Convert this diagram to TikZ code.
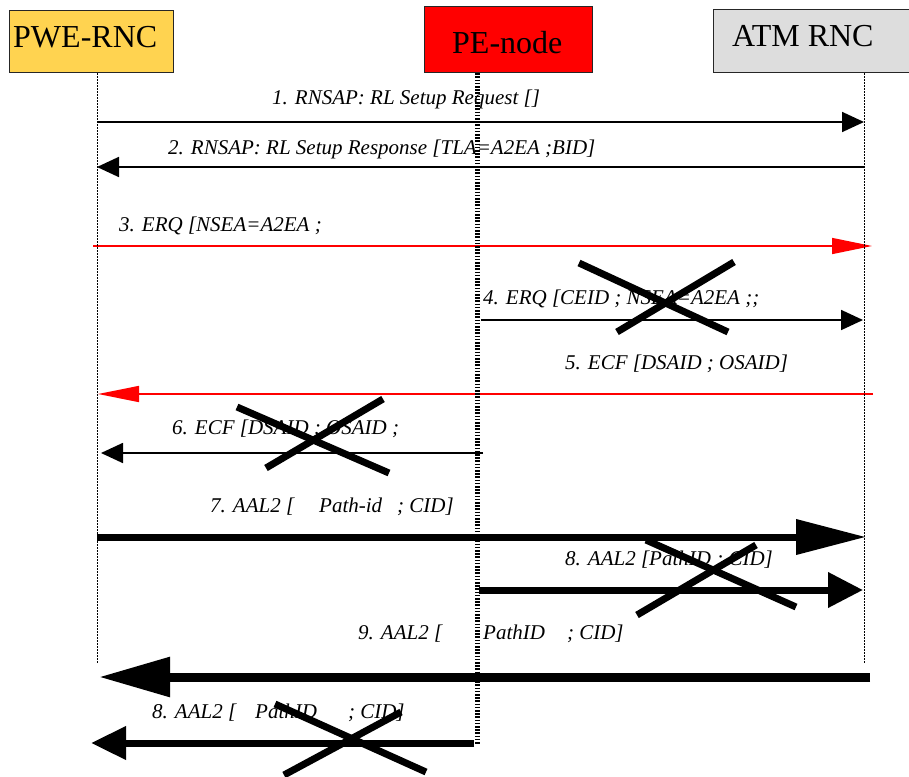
\documentclass[tikz,border=0pt]{standalone}
\usepackage{fontspec}
\setmainfont{Liberation Serif}
\usetikzlibrary{arrows.meta}
\definecolor{pweyellow}{RGB}{255,211,80}
\definecolor{atmgray}{RGB}{221,221,221}
\begin{document}
\begin{tikzpicture}[x=1pt,y=-1pt,
  box/.style={draw=black!85, line width=1.2pt, inner sep=0pt, anchor=north west},
  head/.style={font=\fontsize{32}{36}\selectfont, inner sep=0pt, anchor=base west},
  msg/.style={font=\fontsize{21}{25}\selectfont\itshape, inner sep=0pt, anchor=base west},
  life/.style={line width=0.8pt, dash pattern=on 1.5pt off 1.5pt},
  pelife/.style={line width=5pt, dash pattern=on 1.6pt off 1.6pt},
  thinarr/.style={line width=1.8pt, -{Triangle[length=22pt,width=20pt]}},
  redarr/.style={red, line width=1.5pt, -{Triangle[length=40pt,width=16pt]}},
  fatarr/.style={line width=7pt, -{Triangle[length=70pt,width=34pt]}},
  fatshort/.style={line width=7pt, -{Triangle[length=35pt,width=34pt]}},
  cross/.style={line width=7pt}]
\useasboundingbox (0,0) rectangle (909,776);
\fill[white] (0,0) rectangle (909,776);
% boxes
\node[box, fill=pweyellow, minimum width=164pt, minimum height=62pt] (pwe) at (9,10) {};
\node[box, fill=red, minimum width=168pt, minimum height=66pt] (pe) at (424,6) {};
\node[box, fill=atmgray, minimum width=196pt, minimum height=63pt] (atm) at (713,9) {};
\node[head] (pwet) at (13,48) {PWE-RNC};
\node[head] (pet) at (452,53) {PE-node};
\node[head] (atmt) at (732,47) {ATM RNC};
% lifeline ends
\coordinate (pweend) at (97,663);
\coordinate (atmend) at (864,663);
\coordinate (peend) at (477,745);
% message end points
\coordinate (m1a) at (97,122);  \coordinate (m1b) at (864,122);
\coordinate (m2a) at (864,167); \coordinate (m2b) at (97,167);
\coordinate (m3a) at (93,246);  \coordinate (m3b) at (872,246);
\coordinate (m4a) at (481,320); \coordinate (m4b) at (863,320);
\coordinate (m5a) at (873,394); \coordinate (m5b) at (98,394);
\coordinate (m6a) at (483,453); \coordinate (m6b) at (101,453);
\coordinate (m7a) at (97,537);  \coordinate (m7b) at (866,537);
\coordinate (m8a) at (479,590); \coordinate (m8b) at (863,590);
\coordinate (m9a) at (870,677); \coordinate (m9b) at (99,677);
\coordinate (m10a) at (474,743); \coordinate (m10b) at (91,743);
% messages
\draw[thinarr] (m1a) -- (m1b);
\node[msg] (l1) at (272,104) {1. RNSAP: RL Setup Request []};
\draw[thinarr] (m2a) -- (m2b);
\node[msg] (l2) at (168,154) {2. RNSAP: RL Setup Response [TLA=A2EA ;BID]};
\draw[redarr] (m3a) -- (m3b);
\node[msg] (l3) at (119,231) {3. ERQ [NSEA=A2EA ;};
\draw[thinarr] (m4a) -- (m4b);
\node[msg] (l4) at (483,304) {4. ERQ [CEID ; NSEA=A2EA ;;};
\draw[redarr, -{Triangle[length=41pt,width=16pt]}] (m5a) -- (m5b);
\node[msg] (l5) at (565,369) {5. ECF [DSAID ; OSAID]};
\draw[thinarr] (m6a) -- (m6b);
\node[msg] (l6) at (172,434) {6. ECF [DSAID ; OSAID ;};
\draw[fatarr] (m7a) -- (m7b);
\node[msg] (l7) at (210,512) {7. AAL2 [\hspace{25pt}Path-id\hspace{15pt}; CID]};
\draw[fatshort] (m8a) -- (m8b);
\node[msg] (l8) at (565,565) {8. AAL2 [PathID ; CID]};
\draw[line width=9pt, -{Triangle[length=71pt,width=38pt]}] (m9a) -- (m9b);
\node[msg] (l9) at (358,639) {9. AAL2 [\hspace{41pt}PathID\hspace{22pt}; CID]};
\draw[line width=7pt, -{Triangle[length=35pt,width=32pt]}] (m10a) -- (m10b);
\node[msg] (l10) at (152,718) {8. AAL2 [\hspace{19pt}PathID\hspace{31pt}; CID]};
% lifelines
\draw[life] (pwe.south -| pweend) -- (pweend);
\draw[life] (atm.south -| atmend) -- (atmend);
\draw[pelife] (pe.south -| peend) -- (peend);
% crosses
\draw[cross] (579,263) -- (728,332);
\draw[cross] (734,262) -- (617,332);
\draw[cross] (237,407) -- (389,473);
\draw[cross] (383,399) -- (266,468);
\draw[cross] (646,540) -- (796,607);
\draw[cross] (756,545) -- (637,615);
\draw[cross] (275,704) -- (426,772);
\draw[cross] (401,712) -- (284,775);
\end{tikzpicture}
\end{document}
